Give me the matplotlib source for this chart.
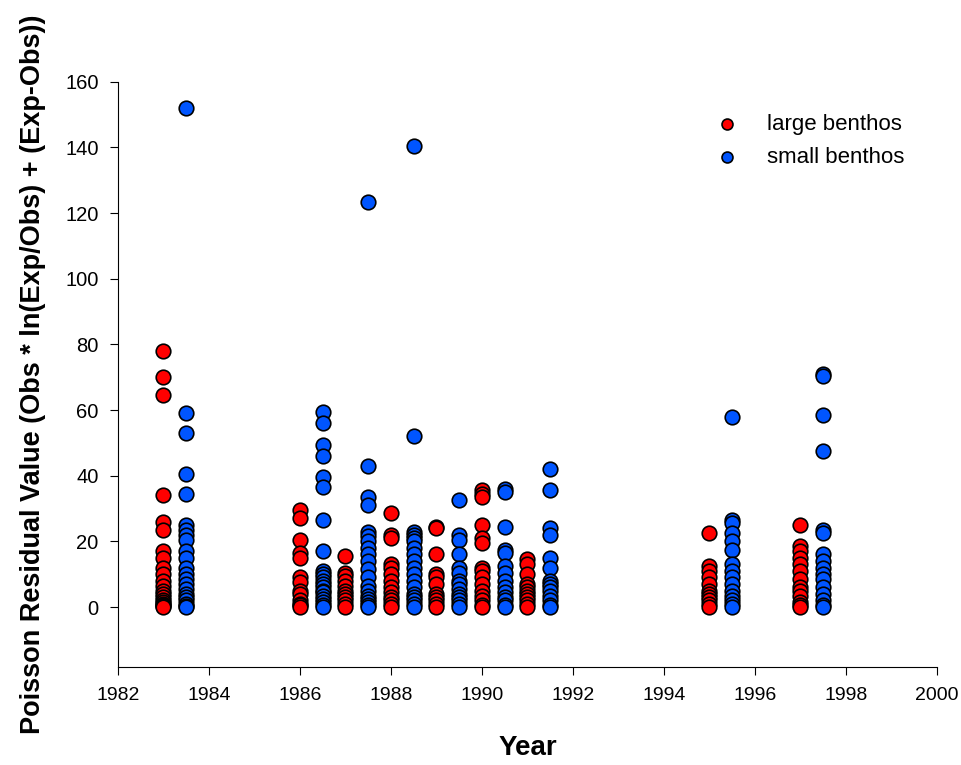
import numpy as np
import matplotlib.pyplot as plt

plt.rcParams['font.family'] = ['Liberation Sans', 'DejaVu Sans']

# values, one list per sampling year
large_years = [1983, 1986, 1987, 1988, 1989, 1990, 1991, 1995, 1997]
large_vals = [
    [78, 70, 64.5, 34, 26, 23.5, 17, 15, 12, 10, 8, 6.5, 5, 4, 3, 2, 1.5, 1, 0.5, 0.2, 0],
    [29.5, 27, 20.5, 16.5, 15, 9, 7.5, 5, 4, 2, 1, 0.5, 0],
    [15.5, 10.5, 9.5, 8, 6.5, 5, 4, 3, 2, 1, 0],
    [28.5, 22, 21, 13, 12, 10, 8, 6, 4.5, 3, 2, 1, 0],
    [24.5, 24, 16, 10, 9, 7, 4, 3, 2, 1, 0],
    [35.5, 34.5, 33.5, 25, 21, 19.5, 12, 11, 9, 7, 5, 3.5, 2, 0.5, 0],
    [14.5, 13, 10, 7, 6, 5, 4, 3, 2, 1, 0],
    [22.5, 12.5, 11, 9, 7, 5, 4, 3, 2, 1, 0],
    [25, 18.5, 17, 15, 13, 11, 8.5, 6, 5, 3.5, 1.5, 0.5, 0],
]
small_years = [1983.5, 1986.5, 1987.5, 1988.5, 1989.5, 1990.5, 1991.5, 1995.5, 1997.5]
small_vals = [
    [152, 59, 53, 40.5, 34.5, 25, 23.5, 22, 20.5, 17, 15, 12, 10, 8.5, 7, 5.5, 4, 3, 2, 1, 0.3, 0],
    [59.5, 56, 49.5, 46, 39.5, 36.5, 26.5, 17, 11, 10, 9, 8, 7, 6, 5, 4.5, 3.5, 2.5, 1.5, 0.5, 0],
    [123.5, 43, 33.5, 31, 23, 21.5, 20, 18, 16, 14, 11.5, 9, 6.5, 5, 3.5, 2.5, 1.5, 0.5, 0],
    [140.5, 52, 23, 22, 21, 20, 18, 16, 14, 12, 10, 8, 6, 4, 3, 2, 1, 0],
    [32.5, 22, 20.5, 16, 12, 10.5, 8, 7, 5.5, 4, 3, 2, 1, 0],
    [36, 35, 24.5, 17.5, 16.5, 12.5, 10.5, 8, 6, 4.5, 3, 2, 0.5, 0],
    [42, 35.5, 24, 22, 15, 12, 8, 7, 6, 5, 3.5, 2, 0.5, 0],
    [58, 26.5, 25.5, 22.5, 20, 17.5, 13, 11, 9, 7, 5, 3.5, 2, 1, 0],
    [71, 70.5, 58.5, 47.5, 23.5, 22.5, 16, 14, 12, 10, 8.5, 6, 4, 2, 0.5, 0],
]

lx = np.concatenate([[yr] * len(v) for yr, v in zip(large_years, large_vals)])
ly = np.concatenate(large_vals)
sx = np.concatenate([[yr] * len(v) for yr, v in zip(small_years, small_vals)])
sy = np.concatenate(small_vals)

fig = plt.figure(figsize=(9.61, 7.65), dpi=100)
ax = fig.add_axes([0.1228, 0.128, 0.852, 0.765])

ax.scatter(lx, ly, s=110, c='#ff0000', edgecolors='black', linewidths=1.2,
           label='large benthos', zorder=3)
ax.scatter(sx, sy, s=110, c='#0055ff', edgecolors='black', linewidths=1.2,
           label='small benthos', zorder=3)

ax.set_xlim(1982, 2000)
ax.set_ylim(-18.3, 160)
ax.set_xticks(np.arange(1982, 2001, 2))
ax.set_yticks(np.arange(0, 161, 20))
ax.spines['top'].set_visible(False)
ax.spines['right'].set_visible(False)
ax.tick_params(direction='out', length=6, labelsize=14)
ax.tick_params(axis='x', pad=8)
ax.tick_params(axis='y', pad=8, labelsize=14.5)

ax.set_xlabel('Year', fontsize=20, fontweight='bold', labelpad=23)
ax.set_ylabel('Poisson Residual Value (Obs * ln(Exp/Obs) + (Exp-Obs))',
              fontsize=19.5, fontweight='bold', labelpad=14)

ax.legend(loc='upper right', bbox_to_anchor=(0.985, 0.98), frameon=False,
          fontsize=16, markerscale=0.75, handletextpad=0.8, labelspacing=0.55)

fig.savefig('out.png', dpi=100)
